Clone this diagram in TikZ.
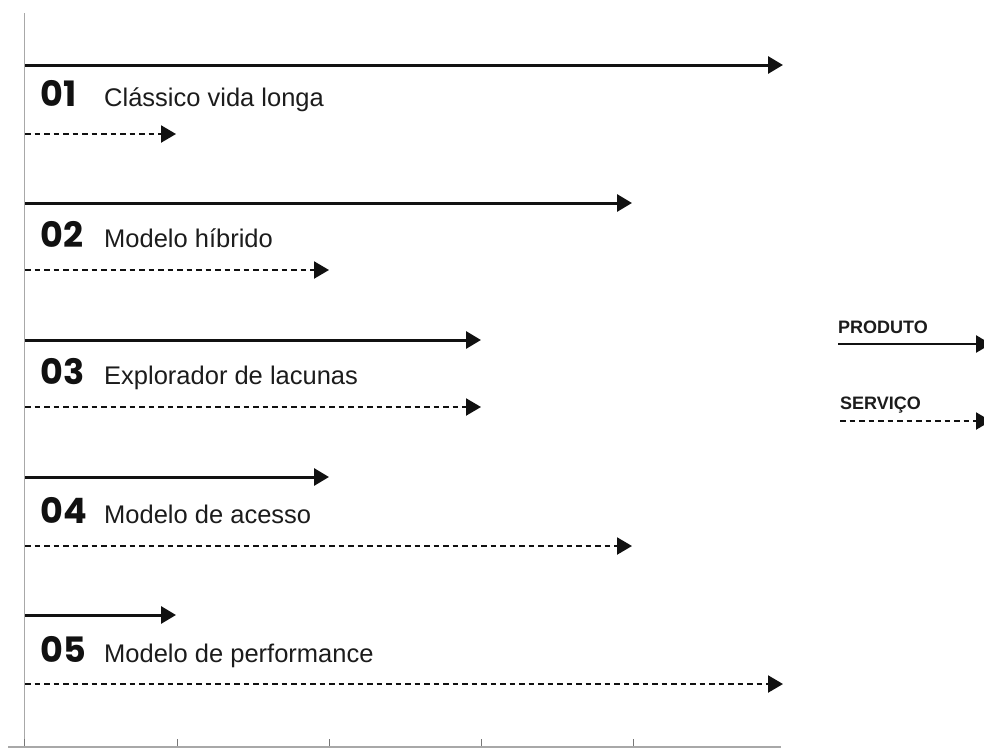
\documentclass[tikz,border=0pt]{standalone}
\usepackage{fontspec}
\setmainfont{Liberation Sans}
\newfontfamily\numfont{Poppins}
\usetikzlibrary{arrows.meta}
\definecolor{ink}{HTML}{111111}
\definecolor{axisgray}{HTML}{A8A8A8}
\definecolor{tickgray}{HTML}{777777}
\definecolor{txt}{HTML}{1C1C1C}
\begin{document}
\begin{tikzpicture}[x=1pt,y=-1pt,
  tip/.style={-{Triangle[length=15pt,width=17pt]}},
  prod/.style={tip, draw=ink, line width=3pt},
  serv/.style={tip, draw=ink, line width=2.2pt, dash pattern=on 5.5pt off 4pt},
  axis/.style={draw=axisgray, line width=1.6pt},
  tickmark/.style={draw=tickgray, line width=1pt},
  num/.style={anchor=base west, inner sep=0pt, text=ink,
    font=\numfont\bfseries\fontsize{35}{35}\selectfont},
  lbl/.style={anchor=base west, inner sep=0pt, text=txt,
    font=\fontsize{25.5}{30}\selectfont},
  legend/.style={anchor=base west, inner sep=0pt, text=txt,
    font=\bfseries\fontsize{18}{20}\selectfont}]
\useasboundingbox[fill=white] (0,0) rectangle (984,748);

% time axes
\coordinate (vtop) at (24.5,13);
\coordinate (vbot) at (24.5,748);
\draw[axis] (vtop) -- (vbot);
\coordinate (hl) at (8,747);
\coordinate (hr) at (781,747);
\draw[axis, line width=2.6pt] (hl) -- (hr);
\foreach \tx [count=\ti] in {24.5,177,329,481,633}{
  \coordinate (t\ti a) at (\tx,739);
  \coordinate (t\ti b) at (\tx,746);
  \draw[tickmark] (t\ti a) -- (t\ti b);
}

% the five models: product arrow, title, service arrow
\foreach \ys/\yb/\yd/\xs/\xd/\n/\lab [count=\r] in {
  65/106/134/783/176/01/Clássico vida longa,
  203/247/270/632/329/02/Modelo híbrido,
  340/384/407/481/481/03/Explorador de lacunas,
  477/523/546/329/632/04/Modelo de acesso,
  615/662/684/176/783/05/Modelo de performance}{
  \coordinate (ps\r) at (25,\ys);
  \coordinate (pe\r) at (\xs,\ys);
  \coordinate (ss\r) at (25,\yd);
  \coordinate (se\r) at (\xd,\yd);
  \draw[prod] (ps\r) -- (pe\r);
  \draw[serv] (ss\r) -- (se\r);
  \node[num] (n\r) at (40,\yb) {\n};
  \node[lbl] (l\r) at (104,\yb) {\lab};
}

% legend
\node[legend] (kprod) at (838,333) {PRODUTO};
\coordinate (kps) at (838,344);
\coordinate (kpe) at (991,344);
\draw[prod, line width=2.6pt] (kps) -- (kpe);
\node[legend] (kserv) at (840,409) {SERVIÇO};
\coordinate (kss) at (840,421);
\coordinate (kse) at (991,421);
\draw[serv] (kss) -- (kse);
\end{tikzpicture}
\end{document}
